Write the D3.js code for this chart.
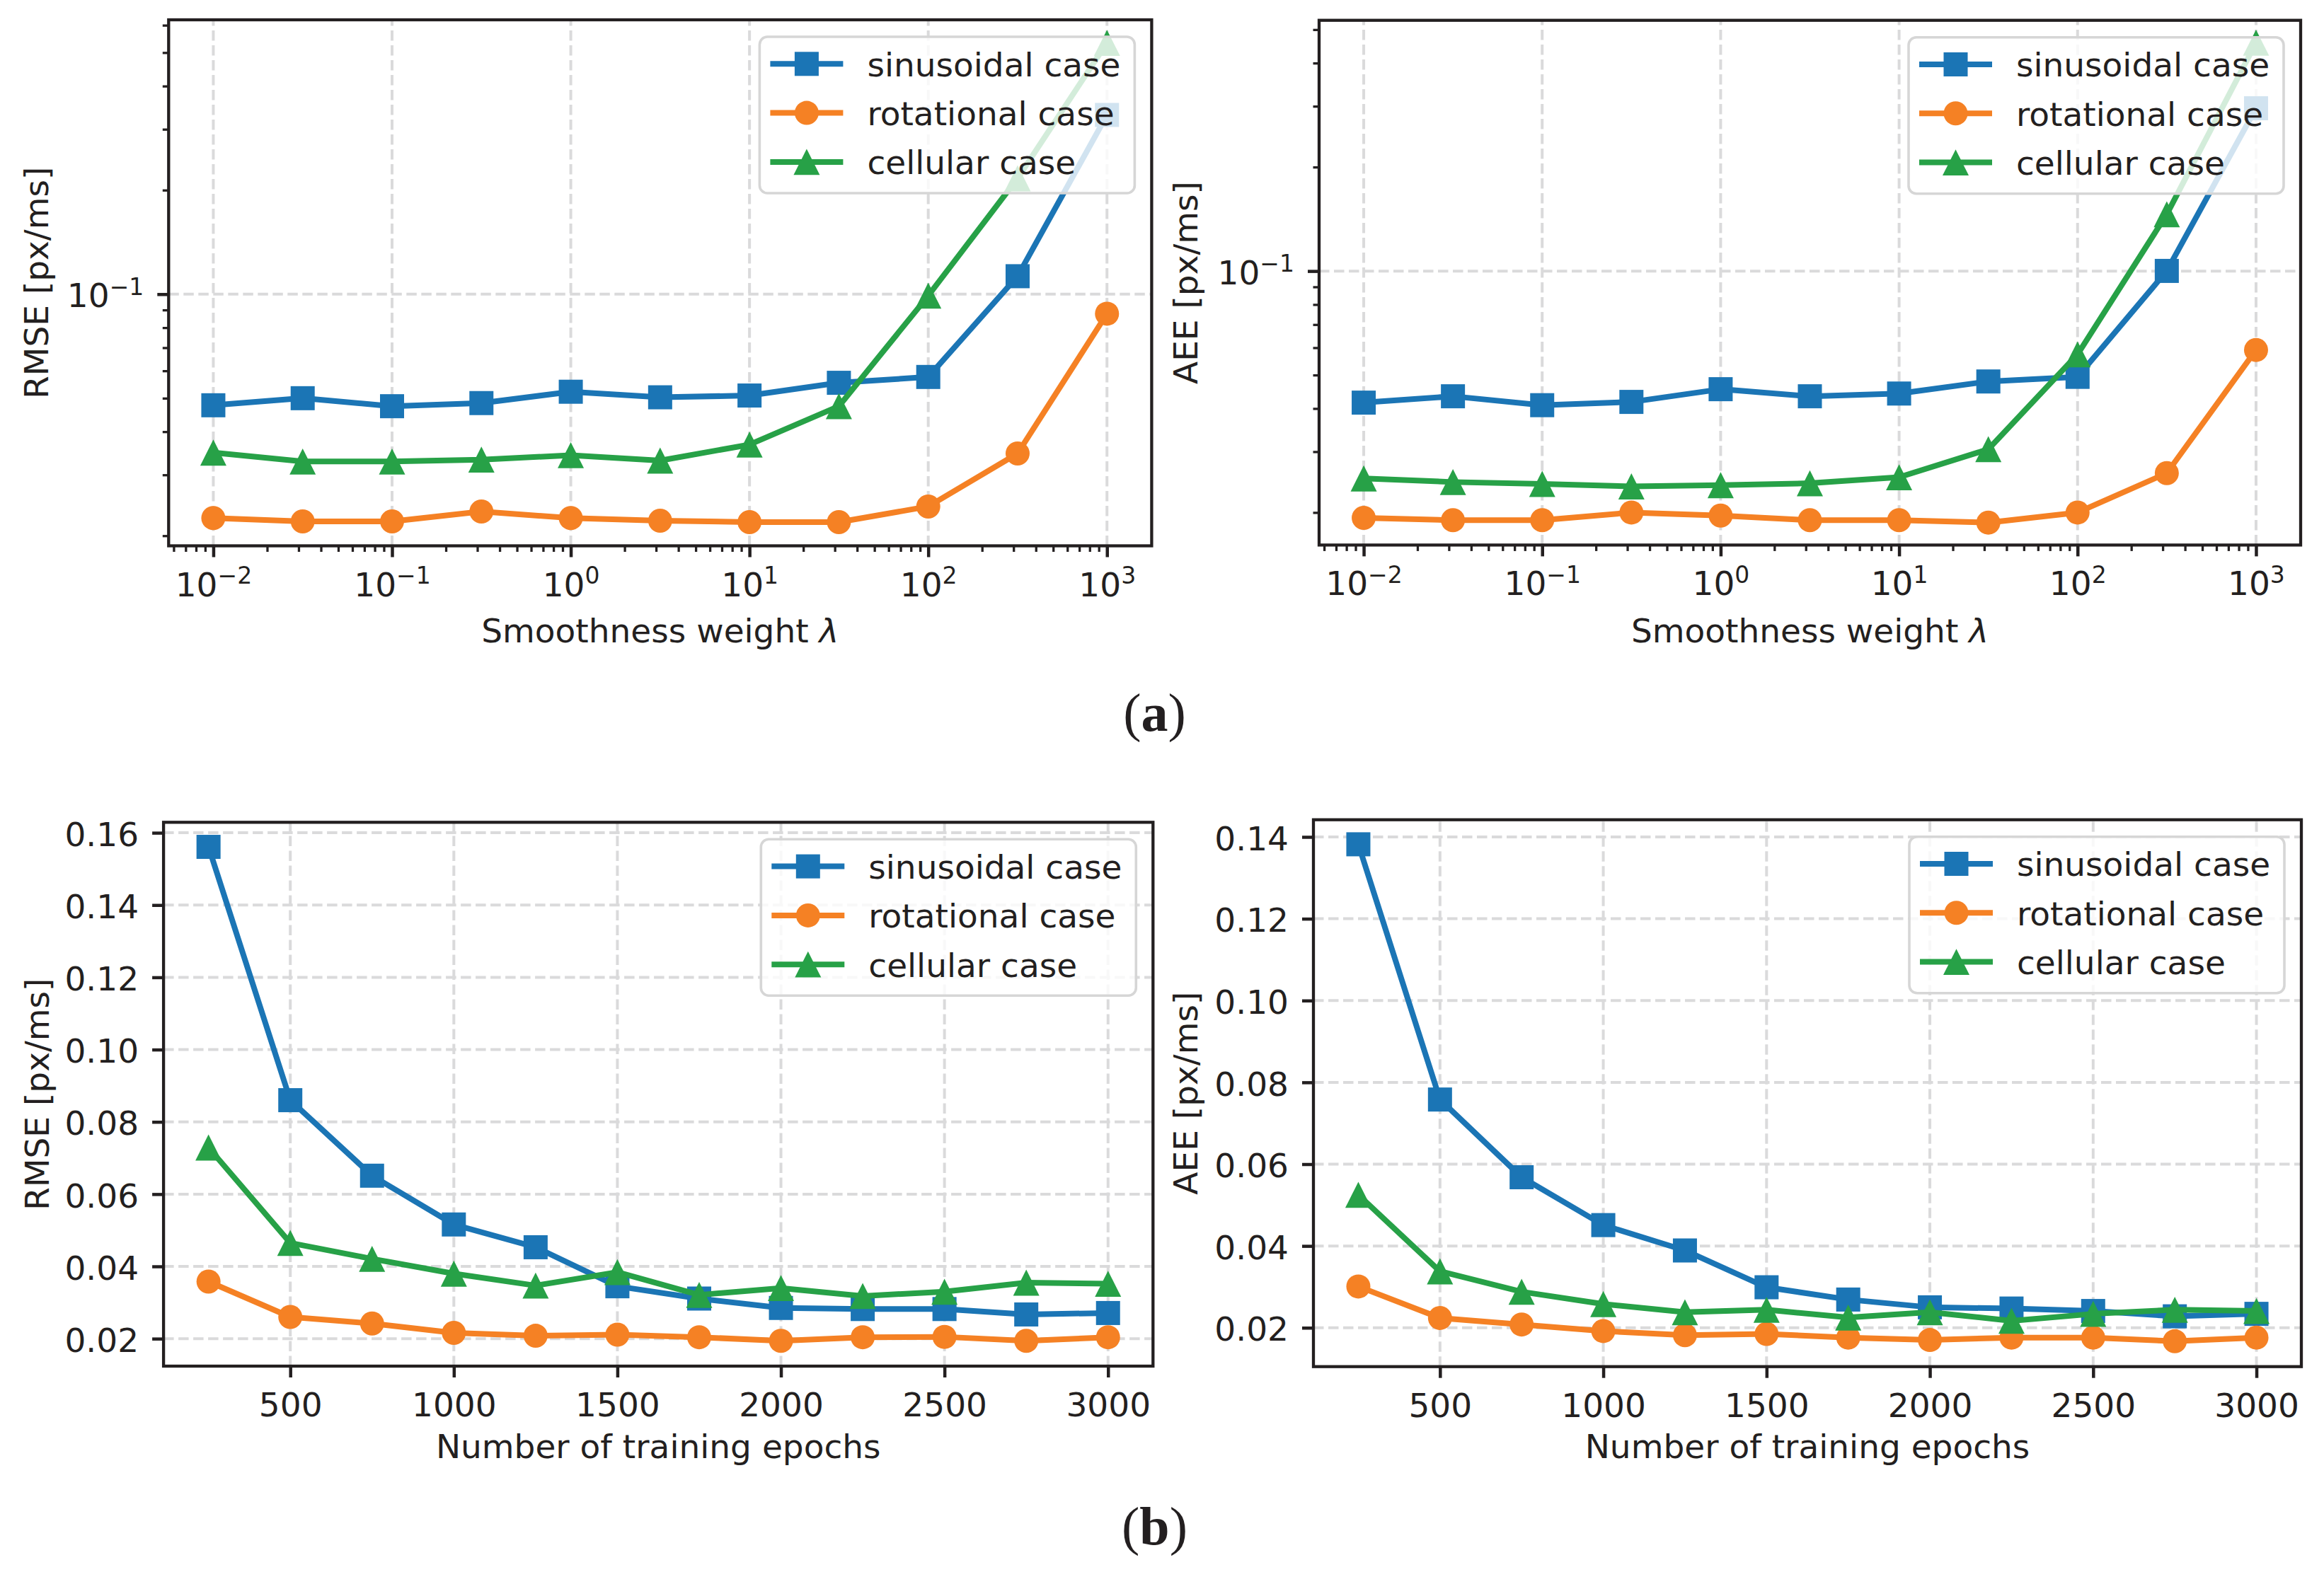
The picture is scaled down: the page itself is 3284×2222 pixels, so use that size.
<!DOCTYPE html>
<html><head><meta charset="utf-8">
<script src="https://cdn.jsdelivr.net/npm/d3@7"></script>
<style>html,body{margin:0;padding:0;background:#fff;} svg{display:block;}</style>
</head><body>
<svg id="c" width="3284" height="2222"></svg>
<script>
// ---------------- data ----------------
const seriesNames = ["sinusoidal case", "rotational case", "cellular case"];
const lambdaValues = [0.01, 0.03162, 0.1, 0.3162, 1, 3.162, 10, 31.62, 100, 316.2, 1000];
const epochValues = [250, 500, 750, 1000, 1250, 1500, 1750, 2000, 2250, 2500, 2750, 3000];

const logTickValues = [0.01, 0.1, 1, 10, 100, 1000];
const logTickExponents = ["−2", "−1", "0", "1", "2", "3"];
const logYTickValues = [0.1];
const logYTickExponents = ["−1"];
const epochTicks = [500, 1000, 1500, 2000, 2500, 3000];
const rmseTicks = [0.02, 0.04, 0.06, 0.08, 0.10, 0.12, 0.14, 0.16];
const aeeTicks = [0.02, 0.04, 0.06, 0.08, 0.10, 0.12, 0.14];

// (a) left: RMSE vs smoothness weight
const rmseLambdaSin = [0.0477, 0.0500, 0.0474, 0.0484, 0.0522, 0.0503, 0.0509, 0.0554, 0.0576, 0.1127, 0.330];
const rmseLambdaRot = [0.0225, 0.0220, 0.0220, 0.0235, 0.0225, 0.0221, 0.0219, 0.0219, 0.0243, 0.0346, 0.0878];
const rmseLambdaCel = [0.0348, 0.0328, 0.0328, 0.0332, 0.0342, 0.0330, 0.0367, 0.0474, 0.0990, 0.2164, 0.5335];
// (a) right: AEE vs smoothness weight
const aeeLambdaSin = [0.0416, 0.0434, 0.0409, 0.0418, 0.0455, 0.0434, 0.0442, 0.0479, 0.0494, 0.1001, 0.296];
const aeeLambdaRot = [0.0193, 0.0190, 0.0190, 0.0200, 0.0196, 0.0190, 0.0190, 0.0187, 0.0200, 0.0260, 0.0591];
const aeeLambdaCel = [0.0251, 0.0245, 0.0242, 0.0238, 0.0240, 0.0243, 0.0253, 0.0305, 0.0574, 0.146, 0.458];
// (b) left: RMSE vs epochs
const rmseEpochSin = [0.1561, 0.0860, 0.0651, 0.0516, 0.0453, 0.0345, 0.0311, 0.0285, 0.0282, 0.0282, 0.0267, 0.0271];
const rmseEpochRot = [0.0358, 0.0260, 0.0242, 0.0216, 0.0208, 0.0211, 0.0204, 0.0194, 0.0204, 0.0205, 0.0194, 0.0204];
const rmseEpochCel = [0.0729, 0.0465, 0.0421, 0.0380, 0.0347, 0.0384, 0.0321, 0.0340, 0.0318, 0.0330, 0.0355, 0.0352];
// (b) right: AEE vs epochs
const aeeEpochSin = [0.1382, 0.0758, 0.0568, 0.0451, 0.0389, 0.0299, 0.0269, 0.0250, 0.0247, 0.0241, 0.0228, 0.0234];
const aeeEpochRot = [0.0301, 0.0224, 0.0208, 0.0192, 0.0182, 0.0185, 0.0176, 0.0170, 0.0176, 0.0176, 0.0167, 0.0176];
const aeeEpochCel = [0.0525, 0.0338, 0.0288, 0.0258, 0.0238, 0.0244, 0.0225, 0.0238, 0.0217, 0.0234, 0.0244, 0.0241];

// ---------------- style ----------------
const COLORS = ["#1b75b5", "#f58124", "#27a147"];
const MARKERS = ["square", "circle", "triangle"];
const INK = "#231f20";
const GRID = "#dadadb";
const FONT = "'DejaVu Sans', sans-serif";
const FS = 47;

const svg = d3.select("#c");

function drawMarker(sel, type, cx, cy, color) {
  if (type === "square") {
    sel.append("rect").attr("x", cx - 17).attr("y", cy - 17).attr("width", 34).attr("height", 34).attr("fill", color);
  } else if (type === "circle") {
    sel.append("circle").attr("cx", cx).attr("cy", cy).attr("r", 17).attr("fill", color);
  } else {
    sel.append("path").attr("d", `M${cx},${cy - 18.4}L${cx - 18.5},${cy + 18.4}L${cx + 18.5},${cy + 18.4}Z`).attr("fill", color);
  }
}

function styleAxis(a, major) {
  a.select(".domain").remove();
  a.attr("font-family", FONT).attr("font-size", FS);
  a.selectAll(".tick line").attr("stroke", INK).attr("stroke-width", major ? 4.5 : 3.3);
  a.selectAll(".tick text").attr("fill", INK);
}

function addPanel(o) {
  const g = svg.append("g");
  const x = o.x, y = o.y;
  x.range([o.x0, o.x1]);
  y.range([o.y1, o.y0]);

  // grid
  g.append("g").selectAll("line").data(o.xGrid).join("line")
    .attr("x1", d => x(d)).attr("x2", d => x(d)).attr("y1", o.y1).attr("y2", o.y0)
    .attr("stroke", GRID).attr("stroke-width", 4).attr("stroke-dasharray", "14.5,6.5");
  g.append("g").selectAll("line").data(o.yGrid).join("line")
    .attr("y1", d => y(d)).attr("y2", d => y(d)).attr("x1", o.x0).attr("x2", o.x1)
    .attr("stroke", GRID).attr("stroke-width", 4).attr("stroke-dasharray", "14.5,6.5");

  // series
  o.series.forEach((vals, i) => {
    const pts = o.xs.map((xv, j) => [x(xv), y(vals[j])]);
    g.append("path").attr("d", d3.line()(pts)).attr("fill", "none")
      .attr("stroke", COLORS[i]).attr("stroke-width", 8).attr("stroke-linejoin", "round");
    const mg = g.append("g");
    pts.forEach(p => drawMarker(mg, MARKERS[i], p[0], p[1], COLORS[i]));
  });

  // minor ticks (log axes)
  if (o.xMinor) {
    g.append("g").attr("transform", `translate(0,${o.y1})`)
      .call(d3.axisBottom(x).tickValues(o.xMinor).tickSize(8.5).tickFormat(() => ""))
      .call(a => styleAxis(a, false));
  }
  if (o.yMinor) {
    g.append("g").attr("transform", `translate(${o.x0},0)`)
      .call(d3.axisLeft(y).tickValues(o.yMinor).tickSize(8.5).tickFormat(() => ""))
      .call(a => styleAxis(a, false));
  }

  // major x axis
  g.append("g").attr("transform", `translate(0,${o.y1})`)
    .call(d3.axisBottom(x).tickValues(o.xTicks).tickSize(16).tickFormat(o.xFormat || (() => "")))
    .call(a => {
      styleAxis(a, true);
      a.selectAll(".tick text").attr("y", 71).attr("dy", 0);
      if (o.xExps) {
        a.selectAll(".tick text").each(function (d, i) {
          const t = d3.select(this).text(null);
          t.append("tspan").text("10");
          t.append("tspan").attr("font-size", 33).attr("dy", -17.7).text(o.xExps[i]);
        });
      }
    });

  // major y axis
  g.append("g").attr("transform", `translate(${o.x0},0)`)
    .call(d3.axisLeft(y).tickValues(o.yTicks).tickSize(16).tickPadding(19).tickFormat(o.yFormat || (() => "")))
    .call(a => {
      styleAxis(a, true);
      a.selectAll(".tick text").attr("dy", 0).attr("y", 18.2);
      if (o.yExps) {
        a.selectAll(".tick text").each(function (d, i) {
          const t = d3.select(this).text(null);
          t.append("tspan").text("10");
          t.append("tspan").attr("font-size", 33).attr("dy", -17.7).text(o.yExps[i]);
        });
      }
    });

  // spines
  g.append("rect").attr("x", o.x0).attr("y", o.y0).attr("width", o.x1 - o.x0).attr("height", o.y1 - o.y0)
    .attr("fill", "none").attr("stroke", INK).attr("stroke-width", 4.3);

  // legend
  const LW = 530, LH = 221;
  const lg = g.append("g").attr("transform", `translate(${o.x1 - 24 - LW},${o.y0 + 24})`);
  lg.append("rect").attr("width", LW).attr("height", LH).attr("rx", 11)
    .attr("fill", "#ffffff").attr("fill-opacity", 0.8).attr("stroke", "#d6d6d6").attr("stroke-width", 3.6);
  seriesNames.forEach((name, i) => {
    const ry = 38.3 + i * 69.3;
    lg.append("line").attr("x1", 15).attr("x2", 118).attr("y1", ry).attr("y2", ry)
      .attr("stroke", COLORS[i]).attr("stroke-width", 8);
    drawMarker(lg, MARKERS[i], 66.5, ry, COLORS[i]);
    lg.append("text").attr("x", 152).attr("y", ry + 17.5).attr("font-family", FONT).attr("font-size", FS)
      .attr("fill", INK).text(name);
  });

  // axis labels
  const xl = g.append("text").attr("x", (o.x0 + o.x1) / 2).attr("y", o.xLabelY).attr("text-anchor", "middle")
    .attr("font-family", FONT).attr("font-size", FS).attr("fill", INK);
  xl.append("tspan").text(o.xLabel);
  if (o.xLabelItalic) xl.append("tspan").attr("font-style", "italic").text(o.xLabelItalic);

  g.append("text").attr("transform", `translate(${o.yLabelX},${(o.y0 + o.y1) / 2}) rotate(-90)`)
    .attr("text-anchor", "middle").attr("font-family", FONT).attr("font-size", FS).attr("fill", INK)
    .text(o.yLabel);
}

// minor tick values for log axes
const xMinorLog = [];
[-3, -2, -1, 0, 1, 2].forEach(e => { for (let k = 2; k <= 9; k++) xMinorLog.push(k * Math.pow(10, e)); });
const yMinorLog = [];
[-2, -1].forEach(e => { for (let k = 2; k <= 9; k++) yMinorLog.push(k * Math.pow(10, e)); });

function inDomain(vals, dom) { return vals.filter(v => v >= dom[0] && v <= dom[1]); }

const lamDom = [Math.pow(10, -2.25), Math.pow(10, 3.25)];

// (a) left
const yTL = [0.0187, 0.622];
addPanel({
  x0: 238.3, x1: 1627.4, y0: 28, y1: 771.5,
  x: d3.scaleLog().domain(lamDom), y: d3.scaleLog().domain(yTL),
  xs: lambdaValues, series: [rmseLambdaSin, rmseLambdaRot, rmseLambdaCel],
  xTicks: logTickValues, xExps: logTickExponents, xFormat: () => "x",
  yTicks: logYTickValues, yExps: logYTickExponents, yFormat: () => "y",
  xMinor: inDomain(xMinorLog, lamDom), yMinor: inDomain(yMinorLog, yTL),
  xGrid: logTickValues, yGrid: logYTickValues,
  xLabel: "Smoothness weight ", xLabelItalic: "λ", xLabelY: 908,
  yLabel: "RMSE [px/ms]", yLabelX: 68
});

// (a) right
const yTR = [0.0161, 0.532];
addPanel({
  x0: 1864, x1: 3251, y0: 28.7, y1: 770.4,
  x: d3.scaleLog().domain(lamDom), y: d3.scaleLog().domain(yTR),
  xs: lambdaValues, series: [aeeLambdaSin, aeeLambdaRot, aeeLambdaCel],
  xTicks: logTickValues, xExps: logTickExponents, xFormat: () => "x",
  yTicks: logYTickValues, yExps: logYTickExponents, yFormat: () => "y",
  xMinor: inDomain(xMinorLog, lamDom), yMinor: inDomain(yMinorLog, yTR),
  xGrid: logTickValues, yGrid: logYTickValues,
  xLabel: "Smoothness weight ", xLabelItalic: "λ", xLabelY: 908,
  yLabel: "AEE [px/ms]", yLabelX: 1692
});

// (b) left
addPanel({
  x0: 231.1, x1: 1629.3, y0: 1162.3, y1: 1931,
  x: d3.scaleLinear().domain([112.5, 3137.5]), y: d3.scaleLinear().domain([0.0124, 0.1629]),
  xs: epochValues, series: [rmseEpochSin, rmseEpochRot, rmseEpochCel],
  xTicks: epochTicks, xFormat: d3.format("d"),
  yTicks: rmseTicks, yFormat: d3.format(".2f"),
  xGrid: epochTicks, yGrid: rmseTicks,
  xLabel: "Number of training epochs", xLabelY: 2061,
  yLabel: "RMSE [px/ms]", yLabelX: 69
});

// (b) right
addPanel({
  x0: 1856, x1: 3252, y0: 1158.7, y1: 1931.7,
  x: d3.scaleLinear().domain([112.5, 3137.5]), y: d3.scaleLinear().domain([0.0105, 0.1442]),
  xs: epochValues, series: [aeeEpochSin, aeeEpochRot, aeeEpochCel],
  xTicks: epochTicks, xFormat: d3.format("d"),
  yTicks: aeeTicks, yFormat: d3.format(".2f"),
  xGrid: epochTicks, yGrid: aeeTicks,
  xLabel: "Number of training epochs", xLabelY: 2061,
  yLabel: "AEE [px/ms]", yLabelX: 1692
});

// sub-figure labels
function subLabel(letter, yBase) {
  const t = svg.append("text").attr("x", 1631.5).attr("y", yBase).attr("text-anchor", "middle")
    .attr("font-family", "'Liberation Serif', serif").attr("font-size", 76).attr("fill", INK);
  t.append("tspan").text("(");
  t.append("tspan").attr("font-weight", "bold").text(letter);
  t.append("tspan").text(")");
}
subLabel("a", 1033);
subLabel("b", 2183);
</script>
</body></html>
